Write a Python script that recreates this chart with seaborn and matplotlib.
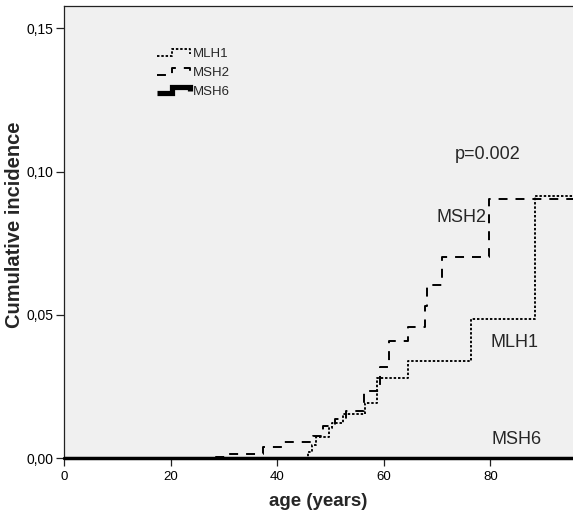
import matplotlib
matplotlib.use("Agg")
import matplotlib.pyplot as plt
import seaborn as sns
import pandas as pd
from matplotlib.lines import Line2D
from matplotlib.legend_handler import HandlerBase
from matplotlib.ticker import FuncFormatter

# ---- data ----
mlh1_age = [0, 45.8, 46.5, 47.3, 49.8, 50.3, 52.3, 56.5, 58.7, 64.5, 76.3, 88.4, 96]
mlh1_ci = [0, 0.002, 0.0045, 0.0074, 0.0105, 0.0122, 0.0155, 0.0193, 0.028, 0.034, 0.0485, 0.0915, 0.0915]

msh2_age = [0, 28.1, 30.2, 37.3, 41.3, 46.7, 48.6, 50.8, 53.0, 56.3, 59.3, 61.0, 64.5, 67.7, 68.2, 70.9, 79.7, 96]
msh2_ci = [0, 0.0005, 0.0015, 0.0037, 0.0057, 0.0077, 0.0112, 0.0135, 0.0164, 0.0234, 0.0318, 0.0408, 0.0458,
           0.053, 0.0605, 0.0701, 0.0904, 0.0904]

msh6_age = [0, 96]
msh6_ci = [0, 0]

groups = ["MLH1", "MSH2", "MSH6"]
x_ticks = [0, 20, 40, 60, 80]
y_ticks = [0.00, 0.05, 0.10, 0.15]
p_text = "p=0.002"

sns.set_style("ticks", {"axes.facecolor": "#f0f0f0", "axes.edgecolor": "#222222"})
plt.rcParams["font.family"] = ["Liberation Sans", "DejaVu Sans"]

fig = plt.figure(figsize=(5.73, 5.13), dpi=100)
ax = fig.add_axes([64 / 573, 55 / 513, 509 / 573, 452 / 513])

styles = {
    "MLH1": dict(lw=1.35, ls=(0, (1.3, 1.0))),
    "MSH2": dict(lw=1.4, ls=(0, (4.6, 4.1))),
    "MSH6": dict(lw=2.5, ls="-"),
}
data = {
    "MLH1": (mlh1_age, mlh1_ci),
    "MSH2": (msh2_age, msh2_ci),
    "MSH6": (msh6_age, msh6_ci),
}

for g in groups:
    a, c = data[g]
    df = pd.DataFrame({"age": a, "ci": c})
    sns.lineplot(data=df, x="age", y="ci", ax=ax, color="black", estimator=None,
                 sort=False, drawstyle="steps-post", linewidth=styles[g]["lw"],
                 linestyle=styles[g]["ls"], clip_on=(g != "MSH6"), zorder=3)

ax.set_xlim(0, 95.5)
ax.set_ylim(0, 0.1578)
ax.set_xticks(x_ticks)
ax.set_yticks(y_ticks)
ax.yaxis.set_major_formatter(FuncFormatter(lambda v, p: f"{v:.2f}".replace(".", ",")))
ax.tick_params(axis="both", length=6, width=0.9, colors="#222222", labelcolor="black")
ax.tick_params(axis="x", pad=3.5, labelsize=9.5)
ax.tick_params(axis="y", pad=1.5, labelsize=10)

for s in ["left", "top", "bottom"]:
    ax.spines[s].set_visible(True)
    ax.spines[s].set_linewidth(0.9)
ax.spines["right"].set_visible(False)

ax.set_xlabel("age (years)", fontsize=13.5, fontweight="bold")
ax.set_ylabel("Cumulative incidence", fontsize=14.5, fontweight="bold")
ax.xaxis.set_label_coords(0.5, -0.078)
ax.yaxis.set_label_coords(-0.097, 0.516)
ax.yaxis.label.set_va("center")

ax.text(79.5, 0.1058, p_text, fontsize=13, ha="center", va="center")
ax.text(74.5, 0.0838, "MSH2", fontsize=13, ha="center", va="center")
ax.text(84.5, 0.0402, "MLH1", fontsize=13, ha="center", va="center")
ax.text(85.0, 0.0064, "MSH6", fontsize=13, ha="center", va="center")


class StepHandler(HandlerBase):
    def __init__(self, lw, ls):
        super().__init__()
        self.lw = lw
        self.ls = ls

    def create_artists(self, legend, orig_handle, xdescent, ydescent, width, height, fontsize, trans):
        x0 = -xdescent
        lo = -ydescent + 0.15 * height
        hi = -ydescent + 0.85 * height
        xm = x0 + 0.45 * width
        x1 = x0 + width
        line = Line2D([x0, xm, xm, x1, x1], [lo, lo, hi, hi, lo + 0.35 * (hi - lo)],
                      color="black", lw=self.lw, linestyle=self.ls, transform=trans,
                      solid_joinstyle="miter", solid_capstyle="butt")
        return [line]


handles = [Line2D([], [], color="black") for _ in groups]
hmap = {h: StepHandler(styles[g]["lw"] * (1.5 if g == "MSH6" else 1.0), styles[g]["ls"])
        for h, g in zip(handles, groups)}
ax.legend(handles, groups, handler_map=hmap, loc="upper left",
          bbox_to_anchor=((157 - 64) / 509, (458.3 - 48) / 452.3), frameon=False,
          fontsize=9.5, handlelength=2.5, handleheight=0.75, handletextpad=0.25,
          labelspacing=0.47, borderpad=0, borderaxespad=0)

fig.savefig("out.png", dpi=100, facecolor="white")
